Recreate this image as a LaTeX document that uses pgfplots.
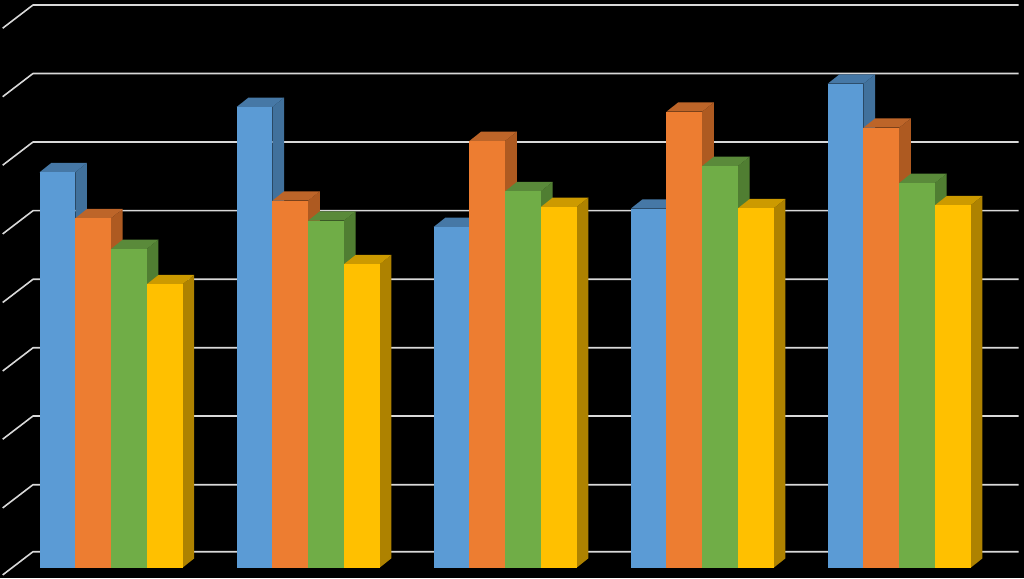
\documentclass[border=0pt]{standalone}
\usepackage{pgfplots}
\pgfplotsset{compat=1.18}
\definecolor{bF}{HTML}{5B9BD5}\definecolor{bT}{HTML}{4678A6}\definecolor{bS}{HTML}{41719C}
\definecolor{oF}{HTML}{ED7D31}\definecolor{oT}{HTML}{BD6529}\definecolor{oS}{HTML}{AE5A21}
\definecolor{gF}{HTML}{70AD47}\definecolor{gT}{HTML}{5A8A3A}\definecolor{gS}{HTML}{507E32}
\definecolor{yF}{HTML}{FFC000}\definecolor{yT}{HTML}{CC9A00}\definecolor{yS}{HTML}{AE8200}
\definecolor{gridc}{HTML}{D9D9D9}
% one 3-D column: left edge, top of front face, colour prefix
\newcommand{\column}[3]{%
  \pgfmathsetmacro{\xa}{#1}%
  \pgfmathsetmacro{\xb}{#1+35.75}%
  \pgfmathsetmacro{\xc}{#1+11.7}%
  \pgfmathsetmacro{\xd}{#1+35.75+11.7}%
  \pgfmathsetmacro{\yt}{#2+9.3}%
  \addplot[fill=#3S,draw=none] coordinates {(\xb,10.3) (\xd,19.6) (\xd,\yt) (\xb,#2)};
  \addplot[fill=#3T,draw=none] coordinates {(\xa,#2) (\xc,\yt) (\xd,\yt) (\xb,#2)};
  \addplot[fill=#3F,draw=none] coordinates {(\xa,10.3) (\xb,10.3) (\xb,#2) (\xa,#2)};
}
\newcommand{\gridrow}[1]{%
  \pgfmathsetmacro{\yl}{#1-23.2}%
  \addplot[gridc,line width=1.6pt,line join=round] coordinates {(2.7,\yl) (33,#1) (1018.7,#1)};
}
\begin{document}
\begin{tikzpicture}
\begin{axis}[
  scale only axis,width=1024pt,height=578pt,
  xmin=0,xmax=1024,ymin=0,ymax=578,
  axis lines=none,ticks=none,
  axis background/.style={fill=black},
  clip=true,
]
\gridrow{573}
\gridrow{504.5}
\gridrow{436}
\gridrow{367.3}
\gridrow{298.7}
\gridrow{230.2}
\gridrow{162}
\gridrow{93.3}
\gridrow{26.3}
% group 1
\column{39.5}{405.7}{b}
\column{75.25}{359.7}{o}
\column{111}{329}{g}
\column{146.75}{293.7}{y}
% group 2
\column{236.6}{471}{b}
\column{272.35}{377.3}{o}
\column{308.1}{357.3}{g}
\column{343.85}{313.7}{y}
% group 3
\column{433.6}{351}{b}
\column{469.35}{437}{o}
\column{505.1}{386.7}{g}
\column{540.85}{371}{y}
% group 4
\column{630.7}{369.3}{b}
\column{666.45}{466.3}{o}
\column{702.2}{412}{g}
\column{737.95}{369.7}{y}
% group 5
\column{827.7}{494.3}{b}
\column{863.45}{450.3}{o}
\column{899.2}{395}{g}
\column{934.95}{372.7}{y}
\end{axis}
\end{tikzpicture}
\end{document}
